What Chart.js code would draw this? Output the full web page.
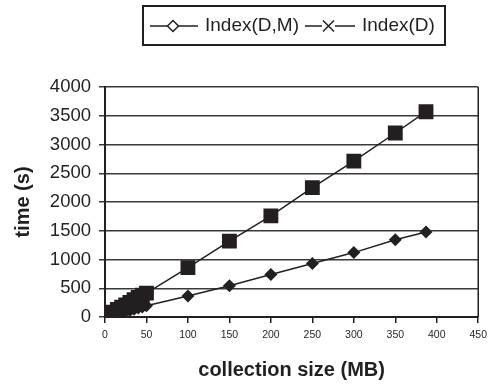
<!DOCTYPE html>
<html>
<head>
<meta charset="utf-8">
<script src="https://cdn.jsdelivr.net/npm/chart.js@4/dist/chart.umd.min.js"></script>
<style>
  html, body { margin: 0; padding: 0; background: #fff; }
  #wrap { width: 493px; height: 385px; }
</style>
</head>
<body>
<div id="wrap"><canvas id="timeChart"></canvas></div>
<script>
const sizes = [1, 5, 10, 15, 20, 25, 30, 35, 40, 45, 50, 100, 150, 200, 250, 300, 350, 387];
const indexDM = [5, 20, 40, 60, 80, 100, 115, 135, 155, 175, 195, 365, 545, 740, 930, 1120, 1345, 1480];
const indexD = [10, 45, 85, 130, 170, 210, 255, 300, 340, 380, 415, 860, 1320, 1760, 2250, 2710, 3200, 3570];
const seriesNames = ['Index(D,M)', 'Index(D)'];
const yTicks = [0, 500, 1000, 1500, 2000, 2500, 3000, 3500, 4000];
const xTicks = [0, 50, 100, 150, 200, 250, 300, 350, 400, 450];

const ink = '#231f20';
const font = 'Liberation Sans, Arial, Helvetica, sans-serif';

const toPoints = (ys) => ys.map((y, i) => ({ x: sizes[i], y: y }));

// legend box and right border of the plot, drawn by hand to match the original
const framePlugin = {
    id: 'frame',
    afterDraw(chart) {
        const ctx = chart.ctx;
        const a = chart.chartArea;
        ctx.save();
        ctx.strokeStyle = ink;
        ctx.lineWidth = 1.5;
        ctx.beginPath();
        ctx.moveTo(a.right, a.top);
        ctx.lineTo(a.right, a.bottom);
        ctx.stroke();

        // legend
        ctx.lineWidth = 2;
        ctx.strokeRect(143, 6, 302, 39);
        ctx.lineWidth = 1.5;
        ctx.font = '19px ' + font;
        ctx.fillStyle = ink;
        ctx.textBaseline = 'middle';
        const cy = 26;
        // item 1: line with open diamond
        ctx.beginPath();
        ctx.moveTo(150, cy); ctx.lineTo(198, cy); ctx.stroke();
        ctx.beginPath();
        ctx.moveTo(173 - 5.5, cy); ctx.lineTo(173, cy - 5.5); ctx.lineTo(173 + 5.5, cy); ctx.lineTo(173, cy + 5.5); ctx.closePath();
        ctx.fillStyle = '#fff'; ctx.fill(); ctx.stroke();
        ctx.fillStyle = ink;
        ctx.fillText(chart.data.datasets[0].label, 205, cy);
        // item 2: line with X
        ctx.beginPath();
        ctx.moveTo(305, cy); ctx.lineTo(355, cy); ctx.stroke();
        ctx.fillStyle = '#fff';
        ctx.fillRect(322, cy - 6, 13, 12);
        ctx.beginPath();
        ctx.moveTo(323, cy - 5.5); ctx.lineTo(334, cy + 5.5);
        ctx.moveTo(334, cy - 5.5); ctx.lineTo(323, cy + 5.5);
        ctx.stroke();
        ctx.fillStyle = ink;
        ctx.fillText(chart.data.datasets[1].label, 362, cy);
        ctx.restore();
    }
};

const ctx = document.getElementById('timeChart').getContext('2d');
new Chart(ctx, {
    type: 'line',
    data: {
        datasets: [
            {
                label: seriesNames[0],
                data: toPoints(indexDM),
                borderColor: ink,
                backgroundColor: ink,
                borderWidth: 1.5,
                pointStyle: 'rectRot',
                pointRadius: 6.5,
                pointBorderWidth: 0
            },
            {
                label: seriesNames[1],
                data: toPoints(indexD),
                borderColor: ink,
                backgroundColor: ink,
                borderWidth: 1.5,
                pointStyle: 'rect',
                pointRadius: 10.5,
                pointBorderWidth: 0
            }
        ]
    },
    options: {
        responsive: true,
        maintainAspectRatio: false,
        animation: false,
        layout: { padding: { top: 87, right: 0, left: 0, bottom: 0 } },
        scales: {
            x: {
                type: 'linear',
                min: 0,
                max: 450,
                afterBuildTicks: (s) => { s.ticks = xTicks.map(v => ({ value: v })); },
                afterFit: (s) => { s.height = 68; },
                border: { color: ink, width: 2 },
                grid: { drawOnChartArea: false, color: ink, tickLength: 6, lineWidth: 1.5 },
                ticks: { color: ink, padding: 6, maxRotation: 0, font: { family: font, size: 10.5 } },
                title: { display: true, text: 'collection size (MB)', color: ink, padding: { top: 0, bottom: 3 }, font: { family: font, size: 20, weight: 'bold' } }
            },
            y: {
                min: 0,
                max: 4000,
                afterBuildTicks: (s) => { s.ticks = yTicks.map(v => ({ value: v })); },
                afterFit: (s) => { s.width = 105; },
                border: { color: ink, width: 2 },
                grid: { color: '#3a3a3a', lineWidth: 1.5, tickLength: 6 },
                ticks: { color: ink, padding: 8, font: { family: font, size: 18.5 }, callback: (v) => String(v) },
                title: { display: true, text: 'time (s)', color: ink, padding: { top: 11, bottom: 0 }, font: { family: font, size: 20, weight: 'bold' } }
            }
        },
        plugins: {
            legend: { display: false },
            tooltip: { enabled: false }
        }
    },
    plugins: [framePlugin]
});
</script>
</body>
</html>
